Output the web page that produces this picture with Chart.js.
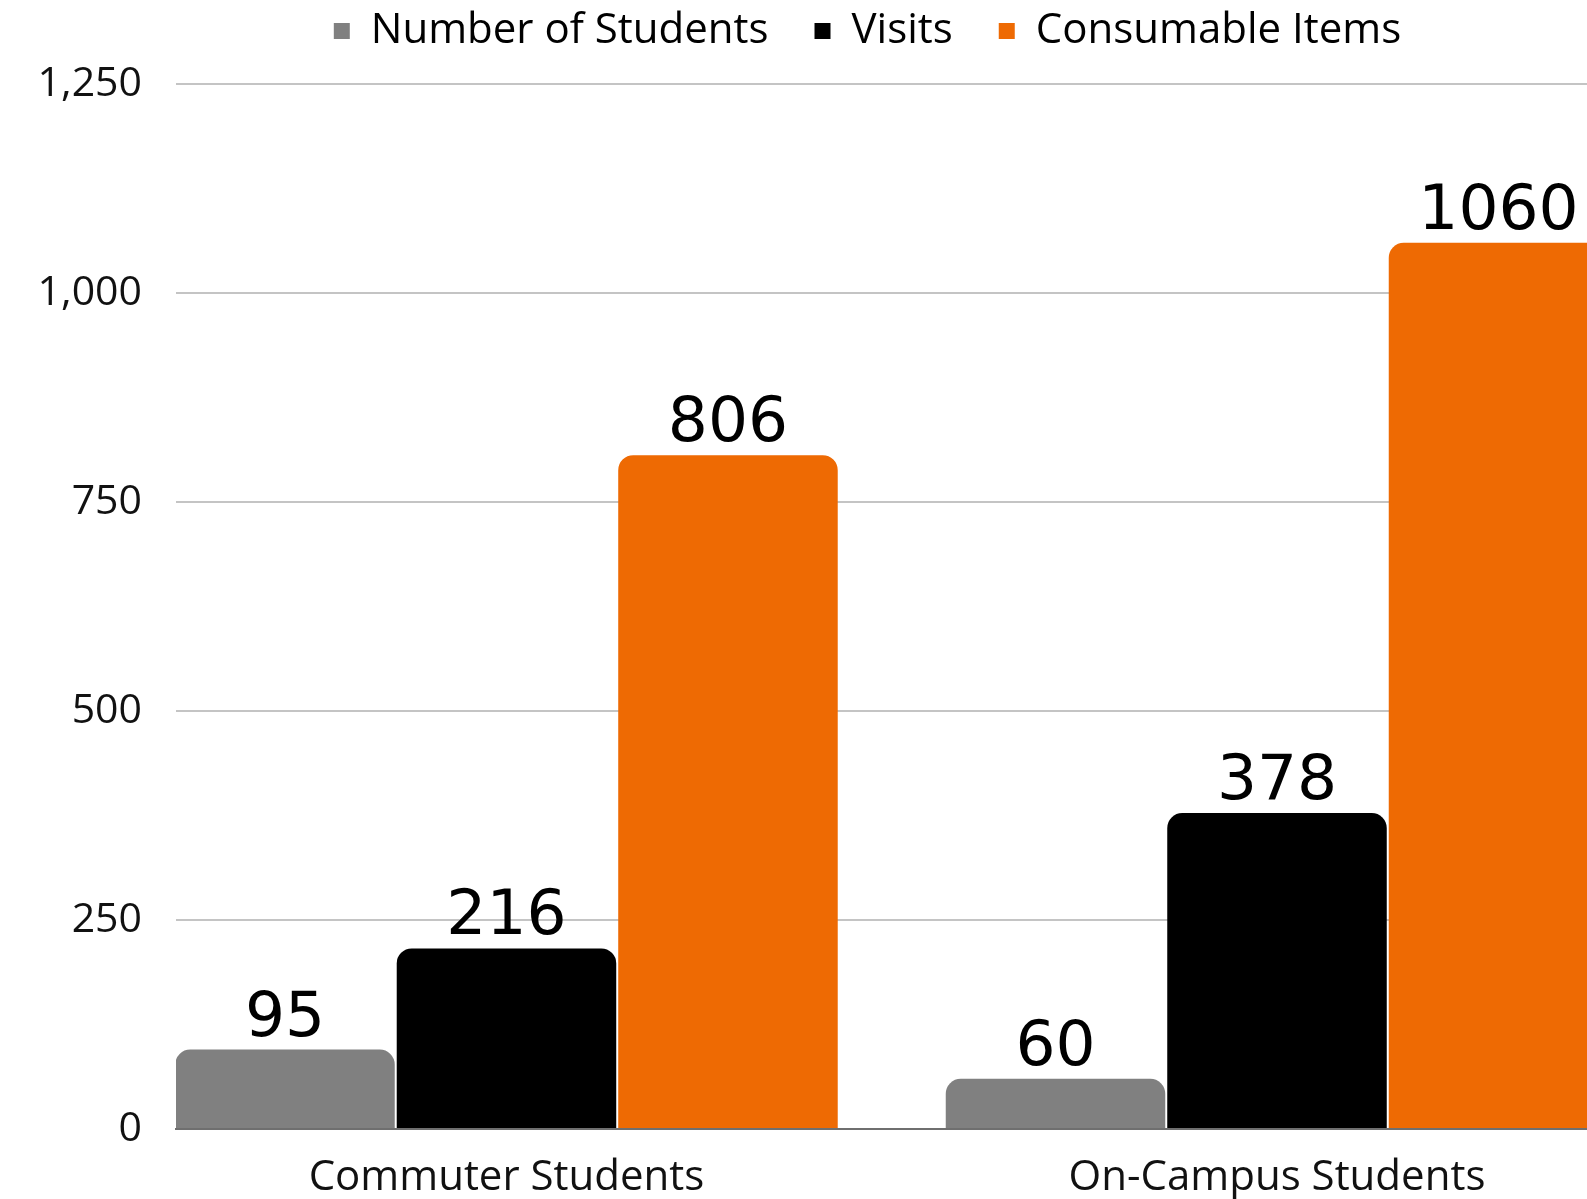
<!DOCTYPE html>
<html>
<head>
<meta charset="utf-8">
<script src="https://cdn.jsdelivr.net/npm/chart.js@4.4.1/dist/chart.umd.min.js"></script>
<style>
  html, body { margin: 0; padding: 0; background: #fff; }
  #frame { width: 1587px; height: 1199px; overflow: hidden; position: relative; }
  #wrap { position: absolute; left: 0; top: -36px; width: 1735px; height: 1235px; }
</style>
</head>
<body>
<div id="frame"><div id="wrap"><canvas id="chart"></canvas></div></div>
<script>
const categories = ["Commuter Students", "On-Campus Students"];
const numberOfStudents = [95, 60];
const visits = [216, 378];
const consumableItems = [806, 1060];
const yTicks = [0, 250, 500, 750, 1000, 1250];

const seriesNames = ["Number of Students", "Visits", "Consumable Items"];
const seriesColors = ["#808080", "#000000", "#ee6a03"];

// bars sit on a numeric x axis so the plot can start right at the first bar
function points(values) {
    return values.map((v, i) => ({ x: i, y: v }));
}

const valueLabels = {
    id: "valueLabels",
    afterDatasetsDraw(chart) {
        const ctx = chart.ctx;
        ctx.save();
        ctx.font = '63px "DejaVu Sans"';
        ctx.fillStyle = "#000";
        ctx.textAlign = "center";
        ctx.textBaseline = "alphabetic";
        chart.data.datasets.forEach((ds, i) => {
            chart.getDatasetMeta(i).data.forEach((bar, j) => {
                ctx.fillText(String(ds.data[j].y), bar.x, bar.y - 14);
            });
        });
        ctx.restore();
    }
};

const legendHeight = {
    id: "legendHeight",
    beforeInit(chart) {
        const fit = chart.legend.fit;
        chart.legend.fit = function () {
            fit.bind(this)();
            this.height = 120;
        };
    }
};

const ctx = document.getElementById("chart").getContext("2d");
const chart = new Chart(ctx, {
    type: "bar",
    data: {
        datasets: [
            { label: seriesNames[0], data: points(numberOfStudents), backgroundColor: seriesColors[0] },
            { label: seriesNames[1], data: points(visits), backgroundColor: seriesColors[1] },
            { label: seriesNames[2], data: points(consumableItems), backgroundColor: seriesColors[2] }
        ]
    },
    options: {
        responsive: true,
        maintainAspectRatio: false,
        animation: false,
        layout: { padding: 0 },
        datasets: {
            bar: {
                categoryPercentage: 0.8624,
                barPercentage: 0.991,
                borderRadius: 15,
                borderSkipped: "bottom"
            }
        },
        plugins: {
            tooltip: { enabled: false },
            legend: {
                position: "top",
                labels: {
                    font: { family: "Open Sans", size: 42 },
                    color: "#000",
                    boxWidth: 16,
                    boxHeight: 16,
                    padding: 46
                }
            }
        },
        scales: {
            x: {
                type: "linear",
                offset: false,
                min: -0.4289,
                max: 1.5944,
                grid: { display: false, drawTicks: false, offset: false },
                border: { display: true, color: "#6f6f6f", width: 2 },
                afterBuildTicks: s => { s.ticks = categories.map((c, i) => ({ value: i })); },
                afterFit: s => { s.height = 70; },
                ticks: {
                    autoSkip: false,
                    maxRotation: 0,
                    padding: 24,
                    color: "#111",
                    font: { family: "Open Sans", size: 42 },
                    callback: v => categories[v] ?? ""
                }
            },
            y: {
                min: 0,
                max: 1250,
                afterBuildTicks: s => { s.ticks = yTicks.map(v => ({ value: v })); },
                afterFit: s => { s.width = 176; },
                grid: { color: "#c4c4c4", lineWidth: 2, drawTicks: false },
                border: { display: false },
                ticks: {
                    padding: 34,
                    color: "#111",
                    font: { family: "Open Sans", size: 41 },
                    callback: v => v.toLocaleString("en-US")
                }
            }
        }
    },
    plugins: [valueLabels, legendHeight]
});
</script>
</body>
</html>
